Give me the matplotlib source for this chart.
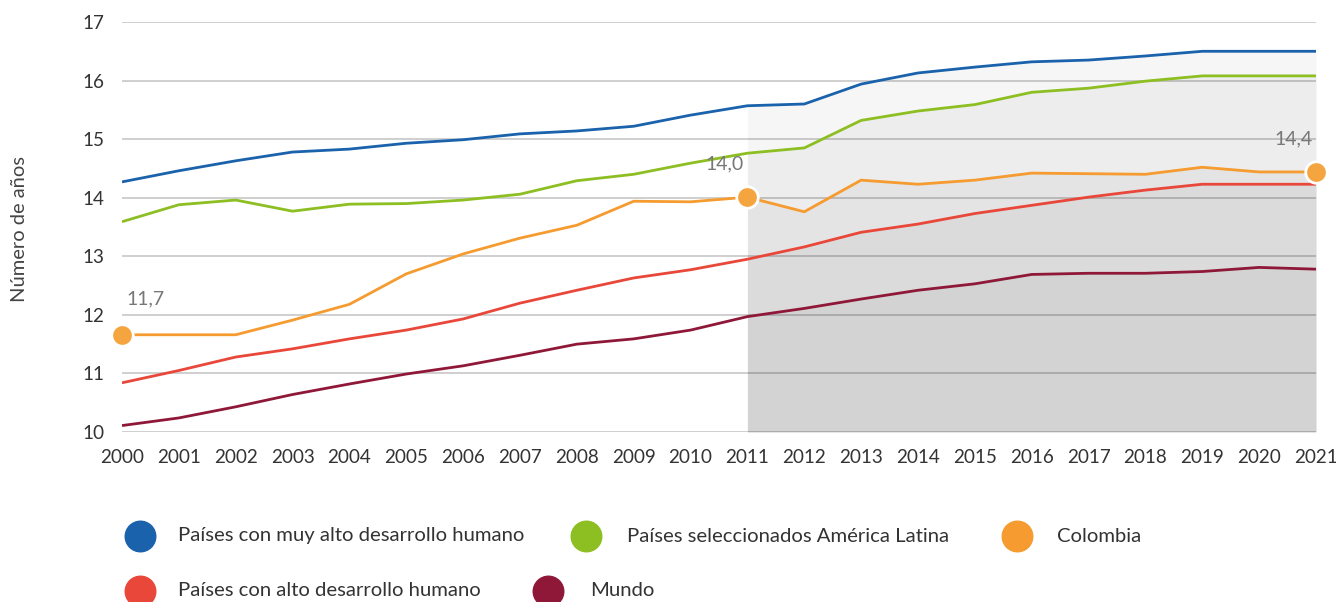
import matplotlib
matplotlib.use("Agg")
import matplotlib.pyplot as plt

plt.rcParams['font.family'] = ['Lato', 'DejaVu Sans']

years = list(range(2000, 2022))
muy_alto = [14.27, 14.46, 14.63, 14.78, 14.83, 14.93, 14.99, 15.09, 15.14, 15.22, 15.41,
            15.57, 15.60, 15.94, 16.13, 16.23, 16.32, 16.35, 16.42, 16.50, 16.50, 16.50]
america_latina = [13.59, 13.88, 13.96, 13.77, 13.89, 13.90, 13.96, 14.06, 14.29, 14.40, 14.59,
                  14.76, 14.85, 15.32, 15.48, 15.59, 15.80, 15.87, 15.99, 16.08, 16.08, 16.08]
colombia = [11.66, 11.66, 11.66, 11.91, 12.18, 12.70, 13.04, 13.31, 13.53, 13.94, 13.93,
            14.01, 13.76, 14.30, 14.23, 14.30, 14.42, 14.41, 14.40, 14.52, 14.44, 14.44]
alto = [10.84, 11.05, 11.28, 11.42, 11.59, 11.74, 11.93, 12.20, 12.42, 12.63, 12.77,
        12.95, 13.16, 13.41, 13.55, 13.73, 13.87, 14.01, 14.13, 14.23, 14.23, 14.23]
mundo = [10.11, 10.24, 10.43, 10.64, 10.82, 10.99, 11.13, 11.31, 11.50, 11.59, 11.74,
         11.97, 12.11, 12.27, 12.42, 12.53, 12.69, 12.71, 12.71, 12.74, 12.81, 12.78]

labels = ["Países con muy alto desarrollo humano", "Países seleccionados América Latina",
          "Colombia", "Países con alto desarrollo humano", "Mundo"]
colors = ["#1a62ab", "#8dbe22", "#f59b2f", "#e8473a", "#8f1839"]
series = [muy_alto, america_latina, colombia, alto, mundo]

# Colombia points that get a marker and a label
hl_years = [2000, 2011, 2021]
hl_text = ["11,7", "14,0", "14,4"]

W, H = 1336, 602
fig = plt.figure(figsize=(W / 100, H / 100), dpi=100)
ax = fig.add_axes([122 / W, 1 - 432 / H, (1316 - 122) / W, (432 - 22) / H])

# shaded projection zone from 2011: one translucent layer under every line
start = years.index(2011)
for s in series:
    ax.fill_between(years[start:], 10, s[start:], color="black", alpha=0.036,
                    linewidth=0, zorder=1)

for s, c in zip(series, colors):
    ax.plot(years, s, color=c, linewidth=2.0, zorder=3, solid_capstyle="butt")

for yr, txt in zip(hl_years, hl_text):
    v = colombia[years.index(yr)]
    ax.scatter([yr], [v], s=240, color="#f5a540", edgecolor="white", linewidth=2,
               zorder=5, clip_on=False)
    if yr == 2000:
        ax.text(yr + 0.08, v + 0.47, txt, fontsize=14, color="#777777", ha="left", va="bottom")
    else:
        ax.text(yr - 0.4, v + 0.42, txt, fontsize=14, color="#777777", ha="center", va="bottom")

ax.set_xlim(2000, 2021)
ax.set_ylim(10, 17)
ax.set_xticks(years)
ax.set_yticks(range(10, 18))
ax.tick_params(length=0, labelsize=13.6, labelcolor="#333333")
ax.tick_params(axis="y", pad=13)
ax.tick_params(axis="x", pad=12)
ax.grid(axis="y", color="#cccccc", linewidth=1.3, zorder=0)
ax.set_axisbelow(True)
for sp in ax.spines.values():
    sp.set_visible(False)

fig.text(20 / W, 1 - 229 / H, "Número de años", rotation=90, fontsize=14.5,
         color="#444444", ha="center", va="center")

# legend drawn by hand, two rows
leg_pos = [(140, 536, 178), (586, 536, 627), (1017, 536, 1057), (140, 591, 178), (548, 591, 590)]
for (cx, cy, tx), lab, c in zip(leg_pos, labels, colors):
    fig.add_artist(plt.Line2D([cx / W], [1 - cy / H], marker="o", markersize=22,
                              color=c, linestyle="none", transform=fig.transFigure))
    fig.text(tx / W, 1 - cy / H, lab, fontsize=14.6, color="#333333", ha="left", va="center")

fig.savefig("out.png", dpi=100)
